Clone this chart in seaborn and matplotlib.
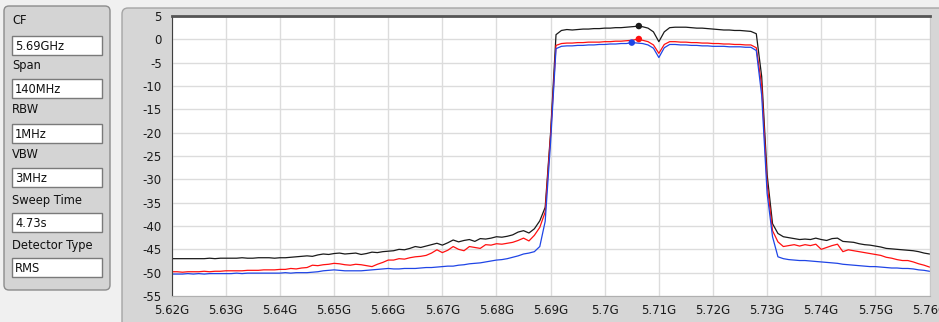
import numpy as np
import pandas as pd
import matplotlib
matplotlib.use("Agg")
import matplotlib.pyplot as plt
from matplotlib.patches import FancyBboxPatch, Rectangle
import seaborn as sns

# sweep points, 1 MHz apart (5.62 GHz .. 5.76 GHz)
freq_mhz = np.arange(5620, 5761)

# trace levels in dB
black_db = [
    -47.0, -47.0, -47.0, -47.0, -47.0, -47.0, -47.0, -46.9, -47.0, -46.9,
    -46.9, -46.9, -46.9, -46.8, -46.9, -46.9, -46.8, -46.8, -46.8, -46.9,
    -46.8, -46.8, -46.7, -46.6, -46.5,
    -46.4, -46.5, -46.2, -46.0, -46.1, -45.9, -45.8, -46.0, -45.9, -45.8,
    -46.1, -45.9, -45.6, -45.7, -45.5, -45.4, -45.3, -45.0, -45.1, -44.8,
    -44.4, -44.6, -44.3, -44.0, -43.7, -44.1, -43.6, -43.0, -43.4, -43.1,
    -42.9, -43.3, -42.7, -42.8, -42.6, -42.3, -42.4, -42.2, -41.9, -41.3,
    -41.0, -41.5, -40.6, -38.9,
    -36.0, -20.0, 1.0, 1.9,
    2.1, 2.0, 2.1, 2.2, 2.2, 2.3, 2.3, 2.4, 2.4, 2.5,
    2.5, 2.6, 2.7, 2.8, 2.7, 2.4, 1.6, -0.5, 1.6, 2.5,
    2.6, 2.6, 2.6, 2.5, 2.4, 2.4, 2.3, 2.2, 2.1, 2.0,
    2.0, 1.9, 1.9, 1.8, 1.7, 1.2,
    -8.0, -29.0, -39.5, -41.6, -42.3, -42.5, -42.7, -42.9, -42.8, -42.9,
    -42.6, -42.9, -43.1, -42.7, -42.6, -43.3, -43.4, -43.5, -43.8, -44.0,
    -44.1, -44.3, -44.5, -44.8, -44.9, -45.0, -45.1, -45.2, -45.3, -45.5,
    -45.8, -46.0,
]
red_db = [
    -49.8, -49.8, -49.9, -49.8, -49.8, -49.8, -49.7, -49.8, -49.7, -49.7,
    -49.6, -49.6, -49.6, -49.6, -49.5, -49.5, -49.5, -49.4, -49.4, -49.4,
    -49.3, -49.3, -49.1, -49.2, -49.0,
    -48.9, -48.4, -48.5, -48.3, -48.2, -48.0, -48.1, -48.3, -48.4, -48.2,
    -48.3, -48.5, -48.7, -48.2, -47.8, -47.3, -47.3, -47.0, -47.1, -46.8,
    -46.6, -46.5, -46.3, -45.8, -45.1, -45.7, -45.2, -44.4, -45.0, -45.3,
    -44.4, -44.6, -44.8, -44.0, -44.1, -43.8, -43.9, -43.7, -43.5, -43.1,
    -42.6, -43.2, -42.0, -40.3,
    -37.0, -20.5, -1.3, -0.9,
    -0.8, -0.8, -0.7, -0.7, -0.6, -0.6, -0.6, -0.5, -0.5, -0.4,
    -0.4, -0.3, -0.2, 0.0, -0.2, -0.5, -1.2, -3.0, -1.1, -0.5,
    -0.5, -0.6, -0.6, -0.7, -0.7, -0.8, -0.8, -0.9, -0.9, -1.0,
    -1.0, -1.1, -1.1, -1.2, -1.2, -1.8,
    -10.0, -31.0, -41.0, -43.4, -44.4, -44.2, -44.0, -44.3, -44.0, -44.2,
    -43.9, -45.0, -44.6, -44.2, -43.9, -45.5, -45.1, -45.3, -45.5, -45.7,
    -45.9, -46.1, -46.3, -46.7, -46.9, -47.2, -47.4, -47.4, -47.7, -48.1,
    -48.4, -48.8,
]
blue_db = [
    -50.3, -50.3, -50.3, -50.2, -50.3, -50.2, -50.3, -50.2, -50.2, -50.2,
    -50.2, -50.2, -50.1, -50.2, -50.1, -50.1, -50.1, -50.1, -50.1, -50.1,
    -50.1, -50.0, -50.1, -50.0, -50.0,
    -50.0, -49.9, -49.8, -49.6, -49.5, -49.4, -49.5, -49.6, -49.6, -49.6,
    -49.6, -49.5, -49.4, -49.3, -49.2, -49.1, -49.2, -49.2, -49.1, -49.1,
    -49.1, -49.0, -48.9, -48.9, -48.8, -48.7, -48.6, -48.6, -48.4, -48.3,
    -48.1, -48.0, -47.9, -47.7, -47.5, -47.3, -47.2, -47.0, -46.7, -46.4,
    -46.0, -45.8, -45.5, -44.4,
    -39.0, -22.0, -2.0, -1.5,
    -1.4, -1.4, -1.3, -1.3, -1.2, -1.2, -1.1, -1.1, -1.0, -1.0,
    -0.9, -0.9, -0.7, -0.8, -0.9, -1.2, -1.9, -3.9, -1.8, -1.1,
    -1.1, -1.2, -1.2, -1.3, -1.3, -1.4, -1.4, -1.5, -1.5, -1.5,
    -1.6, -1.6, -1.6, -1.7, -1.7, -2.4,
    -12.0, -33.0, -42.3, -46.6, -47.0, -47.2, -47.3, -47.4, -47.4, -47.5,
    -47.6, -47.7, -47.8, -47.9, -48.0, -48.2, -48.3, -48.4, -48.5, -48.6,
    -48.7, -48.7, -48.8, -48.9, -49.0, -49.0, -49.1, -49.1, -49.2, -49.4,
    -49.5, -49.7,
]

# peak markers
marker_trace = ["black", "red", "blue"]
marker_freq = [5706.3, 5706.3, 5705.0]
marker_db = [2.85, 0.07, -0.7]

xtick_mhz = [5620, 5630, 5640, 5650, 5660, 5670, 5680, 5690, 5700, 5710, 5720, 5730, 5740, 5750, 5760]
xtick_labels = ["5.62G", "5.63G", "5.64G", "5.65G", "5.66G", "5.67G", "5.68G", "5.69G",
                "5.7G", "5.71G", "5.72G", "5.73G", "5.74G", "5.75G", "5.76G"]
ytick_db = [5, 0, -5, -10, -15, -20, -25, -30, -35, -40, -45, -50, -55]

param_names = ["CF", "Span", "RBW", "VBW", "Sweep Time", "Detector Type"]
param_values = ["5.69GHz", "140MHz", "1MHz", "3MHz", "4.73s", "RMS"]

colors = {"black": "#1a1a1a", "red": "#ff1010", "blue": "#1f45e6"}

sns.set_style("white")
plt.rcParams["font.family"] = ["DejaVu Sans"]

fig = plt.figure(figsize=(9.39, 3.22), dpi=100)
fig.patch.set_facecolor("#f0f0f0")

# background layer in pixel coords (y down)
bg = fig.add_axes([0, 0, 1, 1], zorder=0)
bg.set_xlim(0, 939)
bg.set_ylim(322, 0)
bg.axis("off")

bg.add_patch(FancyBboxPatch((4, 6), 106, 284, boxstyle="round,pad=0,rounding_size=5",
                            fc="#d4d4d4", ec="#8c8c8c", lw=1))
label_y = [20, 65, 109, 154, 200, 245]
box_y = [36, 79, 124, 168, 213, 258]
for name, val, ly, by in zip(param_names, param_values, label_y, box_y):
    bg.text(12, ly, name, fontsize=8.3, color="#111111", va="center", ha="left")
    bg.add_patch(Rectangle((12, by), 90, 19, fc="white", ec="#7a7a7a", lw=1))
    bg.text(15, by + 10, val, fontsize=8.3, color="#111111", va="center", ha="left")

bg.add_patch(FancyBboxPatch((122, 8), 840, 340, boxstyle="round,pad=0,rounding_size=6",
                            fc="#d6d6d6", ec="#a4a4a4", lw=1))

# main spectrum axes
ax = fig.add_axes([171.7 / 939, 1 - 296 / 322, (929.5 - 171.7) / 939, 280 / 322], zorder=2)
ax.set_facecolor("white")

df = pd.DataFrame({"freq": freq_mhz, "black": black_db, "red": red_db, "blue": blue_db})
long_df = df.melt(id_vars="freq", var_name="trace", value_name="level")
sns.lineplot(data=long_df, x="freq", y="level", hue="trace", hue_order=["black", "red", "blue"],
             palette=colors, linewidth=0.9, legend=False, ax=ax)
sns.scatterplot(x=marker_freq, y=marker_db, hue=marker_trace, palette=colors,
                s=22, edgecolor="none", legend=False, ax=ax, zorder=5)

ax.set_xlim(5620, 5760)
ax.set_ylim(-55, 5)
ax.set_xticks(xtick_mhz)
ax.set_xticklabels(xtick_labels)
ax.set_yticks(ytick_db)
ax.set_yticklabels([str(v) for v in ytick_db])
ax.set_xlabel("")
ax.set_ylabel("")
ax.grid(True, color="#dcdcdc", linewidth=1)
ax.set_axisbelow(True)
ax.tick_params(axis="both", direction="out", length=5, width=1, color="#303030",
               labelsize=8.5, labelcolor="#1a1a1a", pad=2)
ax.tick_params(axis="x", length=4)

ax.spines["top"].set_color("#555555")
ax.spines["top"].set_linewidth(2)
ax.spines["left"].set_color("#404040")
ax.spines["bottom"].set_color("#b0b0b0")
ax.spines["right"].set_color("#c8c8c8")

fig.savefig("out.png", dpi=100, facecolor=fig.get_facecolor())
